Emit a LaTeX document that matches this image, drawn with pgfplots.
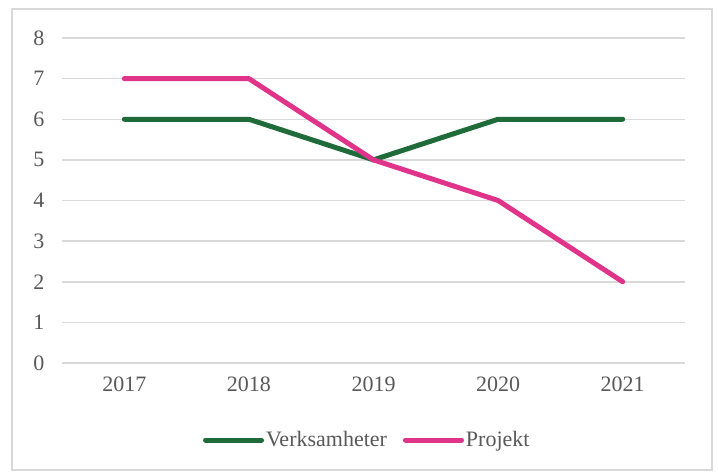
\documentclass[border=0pt]{standalone}
\usepackage{fontspec}
\setmainfont{Liberation Serif}
\usepackage{pgfplots}
\pgfplotsset{compat=1.18}
\definecolor{vgreen}{HTML}{1F6B3A}
\definecolor{ppink}{HTML}{E0338A}
\definecolor{gridc}{HTML}{D9D9D9}
\definecolor{txt}{HTML}{595959}
\begin{document}
\begin{tikzpicture}[x=1pt,y=1pt]
\useasboundingbox (0,0) rectangle (718,475);
\fill[white] (0,0) rectangle (718,475);
\draw[gridc, line width=1.5pt] (12,5) rectangle (712,466);
\begin{axis}[
  at={(62pt,112pt)}, anchor=south west,
  scale only axis, width=623pt, height=325pt,
  xmin=2016.5, xmax=2021.5, ymin=0, ymax=8,
  xtick={2017,2018,2019,2020,2021},
  ytick={0,1,...,8},
  xticklabel style={/pgf/number format/1000 sep={}},
  /pgf/number format/assume math mode=true,
  ymajorgrids, grid style={gridc, line width=1.5pt},
  axis x line*=bottom,
  x axis line style={draw=gridc, line width=1.5pt},
  y axis line style={draw=none},
  major tick length=0pt,
  tick label style={font=\fontsize{22}{24}\selectfont, text=txt},
  yticklabel style={xshift=-14pt},
  xticklabel style={yshift=-10pt},
  clip=false,
  legend style={at={(0.49,-77pt)}, anchor=center, draw=none, fill=none,
    legend columns=2, font=\fontsize{22}{24}\selectfont, text=txt,
    /tikz/every even column/.append style={column sep=14pt},
    /tikz/every odd column/.append style={column sep=0pt}},
  legend image code/.code={\draw[#1, line cap=round] (0pt,0pt) -- (56pt,0pt);},
]
\addplot[vgreen, line width=5pt, line join=round, line cap=round] coordinates {(2017,6) (2018,6) (2019,5) (2020,6) (2021,6)};
\addlegendentry{Verksamheter}
\addplot[ppink, line width=5pt, line join=round, line cap=round] coordinates {(2017,7) (2018,7) (2019,5) (2020,4) (2021,2)};
\addlegendentry{Projekt}
\end{axis}
\end{tikzpicture}
\end{document}
